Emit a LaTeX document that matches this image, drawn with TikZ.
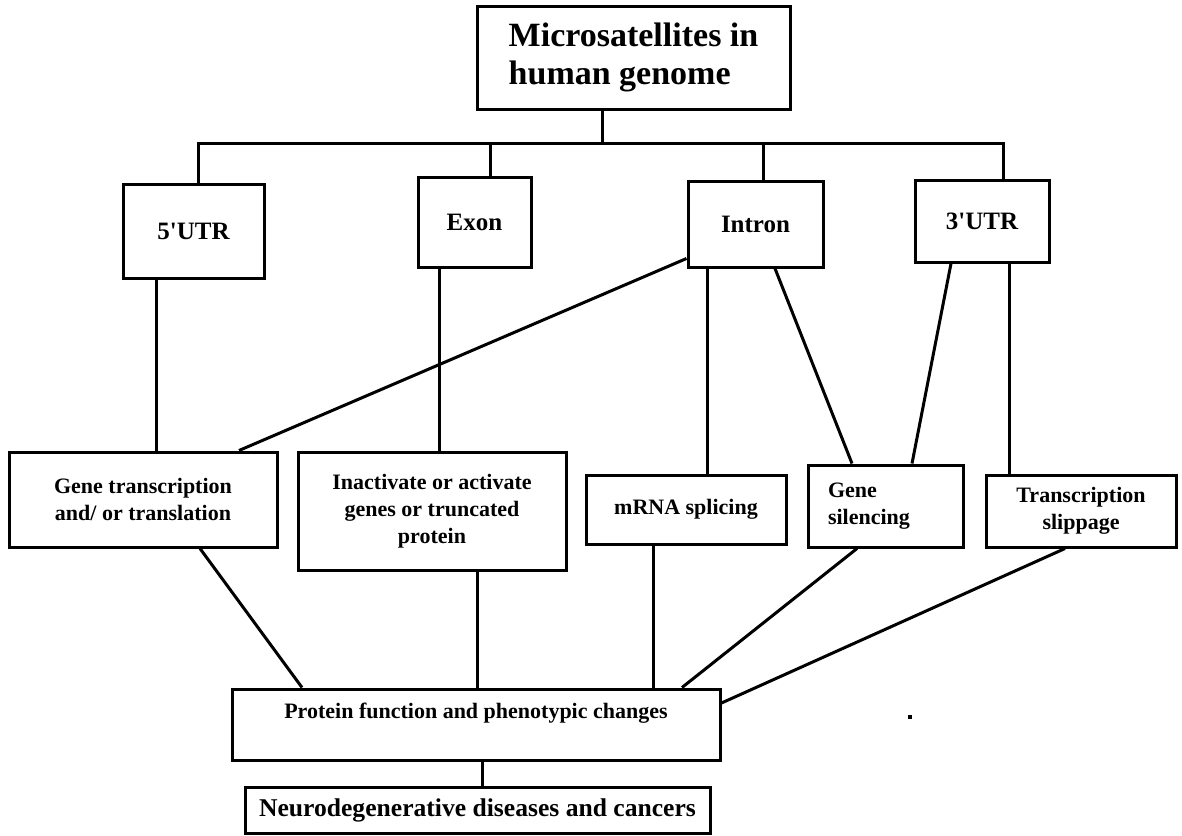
\documentclass[tikz,border=0pt]{standalone}
\usepackage{fontspec}
\setmainfont{Liberation Serif}
\usetikzlibrary{calc}

\begin{document}
\begin{tikzpicture}[
    x=0.5pt, y=-0.5pt,
    block/.style={draw=black, line width=1.5pt, align=center,
                  inner sep=2pt, font=\bfseries\fontsize{11}{13.5}\selectfont},
    region/.style={block, font=\bfseries\fontsize{12.5}{15}\selectfont},
    link/.style={line width=1.5pt},
]
\useasboundingbox (0,0) rectangle (1182,835);

% --- Title ---
\node[block, minimum width=156.5pt, minimum height=51.5pt, align=left,
      font=\bfseries\fontsize{17}{19}\selectfont]
    (genome) at (633.5, 57.5) {Microsatellites in\\human genome};

% --- Regions ---
\node[region, minimum width=70.5pt, minimum height=47pt]
    (utr5) at (193.5, 231) {5\textquotesingle UTR};
\node[region, minimum width=56.5pt, minimum height=45pt]
    (exon) at (474.5, 222) {Exon};
\node[region, minimum width=67.5pt, minimum height=43pt]
    (intron) at (755.5, 224) {Intron};
\node[region, minimum width=67pt, minimum height=41pt]
    (utr3) at (982, 221) {3\textquotesingle UTR};

% bus from the title down to the regions
\coordinate (bus) at (602, 143);
\path ($(utr5.north)+(4.5,0)$) coordinate (b1)
      ($(exon.north)+(15.5,0)$) coordinate (b2)
      ($(intron.north)+(7.5,0)$) coordinate (b3)
      ($(utr3.north)+(21,0)$) coordinate (b4);
\draw[link] (genome.south -| bus) -- (bus);
\draw[link] (b1) -- (b1 |- bus) -- (b4 |- bus) -- (b4);
\draw[link] (b2) -- (b2 |- bus);
\draw[link] (b3) -- (b3 |- bus);

% --- Effects ---
\node[block, minimum width=134pt, minimum height=47.5pt]
    (transl) at (143, 499.5) {Gene transcription\\and/ or translation};
\node[block, minimum width=134pt, minimum height=59pt]
    (inact) at (432, 511) {Inactivate or activate\\genes or truncated\\protein};
\node[block, minimum width=100pt, minimum height=34.5pt]
    (splice) at (686, 509.5) {mRNA splicing};
\node[block, text width=57.5pt, inner xsep=10pt, align=left, minimum height=41pt]
    (silence) at (885.5, 506) {Gene\\silencing};
\node[block, minimum width=95pt, minimum height=36pt]
    (slip) at (1081, 511) {Transcription\\slippage};

\draw[link] ($(utr5.south)+(-37.5,0)$) coordinate (u5) -- (u5 |- transl.north);
\draw[link] ($(intron.south west)+(0,-10)$) -- ($(transl.north)+(96,0)$);
\draw[link] ($(exon.south)+(-35.5,0)$) coordinate (ex) -- (ex |- inact.north);
\draw[link] ($(intron.south)+(-48.5,0)$) coordinate (in) -- (in |- splice.north);
\draw[link] ($(intron.south)+(19.5,0)$) -- ($(silence.north)+(-33.5,0)$);
\draw[link] ($(utr3.south)+(-31,0)$) -- ($(silence.north)+(26.5,0)$);
\draw[link] ($(utr3.south)+(27,0)$) coordinate (u3) -- (u3 |- slip.north);

% --- Outcome ---
\node[block, minimum width=244pt, minimum height=35.5pt]
    (protein) at (476, 724.5) {Protein function and phenotypic changes\\\mbox{}};
\node[block, minimum width=232.5pt, minimum height=23pt,
      font=\bfseries\fontsize{12.8}{15}\selectfont]
    (disease) at (477.5, 810) {Neurodegenerative diseases and cancers};

\draw[link] ($(transl.south)+(57,0)$) -- ($(protein.north)+(-174,0)$);
\draw[link] ($(inact.south)+(45,0)$) coordinate (ia) -- (ia |- protein.north);
\draw[link] ($(splice.south)+(-33,0)$) coordinate (sp) -- (sp |- protein.north);
\draw[link] ($(silence.south)+(-28.5,0)$) -- ($(protein.north)+(206,0)$);
\draw[link] ($(slip.south)+(-16,0)$) -- ($(protein.east)+(0,-21.5)$);
\draw[link] ($(protein.south)+(6,0)$) coordinate (pr) -- (pr |- disease.north);

% stray dot
\fill (908, 715) rectangle (912, 719);

\end{tikzpicture}
\end{document}
